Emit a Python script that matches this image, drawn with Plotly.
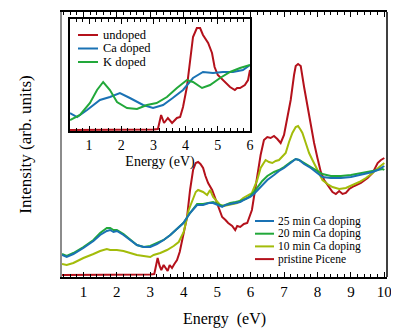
import plotly.graph_objects as go

# ---- main panel data (energy in eV, intensity in arb. units) ----
e_pristine = [0.36, 1.0, 2.0, 3.0, 3.12, 3.18, 3.22, 3.28, 3.33, 3.4, 3.47, 3.52, 3.58, 3.65, 3.72,
              3.8, 3.88, 3.95, 4.02, 4.1, 4.19, 4.28, 4.36, 4.43, 4.5, 4.58, 4.65, 4.73, 4.85, 5.0,
              5.15, 5.25, 5.33, 5.45, 5.54, 5.6, 5.69, 5.8, 5.9, 6.04, 6.13, 6.22, 6.3, 6.4, 6.5,
              6.6, 6.7, 6.8, 6.9, 7.0, 7.1, 7.2, 7.3, 7.35, 7.42, 7.5, 7.6, 7.75, 7.9, 8.0, 8.1,
              8.2, 8.3, 8.45, 8.55, 8.65, 8.75, 8.85, 8.95, 9.1, 9.3, 9.5, 9.65, 9.8, 9.9, 10.0]
i_pristine = [2, 2, 2, 2.5, 3, 15, 19, 11, 7, 12, 9, 6, 12, 9, 13,
              17, 25, 37, 49, 60, 87, 107, 114, 115, 113, 109, 101, 94, 87, 74,
              60, 57, 54, 51, 47, 51, 50, 53, 54, 67, 87, 104, 122, 137, 140,
              139, 141, 138, 134, 142, 159, 177, 202, 211, 213, 211, 190, 160, 134, 119, 105,
              97, 92, 85, 83, 86, 83, 84, 88, 91, 94, 99, 104, 114, 117, 119]

e_25min = [0.36, 0.5, 0.7, 1.0, 1.3, 1.5, 1.7, 1.8, 1.9, 2.0, 2.2, 2.4, 2.6, 2.8, 3.0, 3.2, 3.4,
           3.6, 3.8, 3.99, 4.19, 4.4, 4.58, 4.75, 4.88, 5.0, 5.15, 5.25, 5.39, 5.55, 5.69, 5.85,
           5.99, 6.1, 6.22, 6.35, 6.5, 6.7, 6.85, 7.0, 7.2, 7.35, 7.45, 7.6, 7.8, 8.0, 8.15, 8.4,
           8.7, 9.0, 9.3, 9.5, 9.65, 9.8, 9.95, 10.0]
i_25min = [22, 20, 23, 29, 36, 42, 46, 47, 45, 46, 42, 37, 32, 30, 30, 33, 37,
           42, 48, 54, 64, 72, 72, 74, 74, 72, 70, 72, 73, 74, 75, 78,
           80, 83, 87, 92, 97, 102, 106, 109, 114, 118, 117, 113, 109, 104, 100, 99,
           99, 100, 102, 104, 105, 107, 110, 111]

e_20min = e_25min
i_20min = [23, 21, 24, 30, 37, 44, 49, 49, 47, 47, 43, 37, 32, 30, 31, 34, 37,
           42, 48, 54, 64, 73, 73, 74, 75, 73, 71, 72, 74, 75, 76, 78,
           81, 85, 90, 96, 101, 105, 107, 110, 115, 118, 117, 114, 110, 106, 103, 101,
           101, 102, 104, 105, 106, 107, 108, 107]

e_10min = [0.36, 0.5, 0.7, 1.0, 1.3, 1.5, 1.7, 1.8, 2.0, 2.2, 2.4, 2.6, 2.8, 3.0, 3.1, 3.3, 3.5,
           3.7, 3.85, 4.0, 4.15, 4.28, 4.36, 4.43, 4.5, 4.58, 4.7, 4.79, 4.88, 5.0, 5.09, 5.2,
           5.33, 5.45, 5.6, 5.78, 5.9, 6.04, 6.2, 6.3, 6.45, 6.55, 6.65, 6.75, 6.85, 6.95, 7.05,
           7.15, 7.25, 7.35, 7.42, 7.5, 7.55, 7.65, 7.75, 7.85, 7.95, 8.15, 8.3, 8.45, 8.65,
           8.85, 9.05, 9.25, 9.45, 9.65, 9.85, 10.0]
i_10min = [13, 12, 14, 19, 23, 26, 28, 27, 27, 26, 24, 22, 21, 20, 22, 24, 27,
           31, 35, 45, 67, 77, 85, 87, 86, 85, 82, 87, 80, 75, 72, 71,
           72, 73, 74, 79, 81, 84, 97, 109, 117, 115, 114, 116, 117, 120, 124,
           135, 144, 150, 151, 147, 144, 134, 124, 117, 110, 97, 93, 90, 88,
           89, 92, 95, 99, 104, 110, 114]

main_names = ["pristine Picene", "10 min Ca doping", "20 min Ca doping", "25 min Ca doping"]
main_colors = ["#b4111b", "#a3bc0a", "#22a83a", "#1a72b4"]

# ---- inset data ----
e_undoped = [0.41, 1.0, 2.0, 3.0, 3.14, 3.24, 3.33, 3.45, 3.58, 3.73, 3.83, 3.92, 4.04, 4.14, 4.23,
             4.35, 4.45, 4.54, 4.7, 4.82, 4.9, 5.0, 5.16, 5.38, 5.53, 5.6, 5.69, 5.84, 5.94, 6.0]
i_undoped = [1, 1, 1, 1.5, 2, 16, 8, 13, 8, 13, 14, 24, 44, 74, 94,
             103, 103, 96, 88, 78, 64, 56, 51, 44, 41, 43, 43, 46, 51, 61]

e_ca = [0.41, 0.63, 0.94, 1.34, 1.65, 1.96, 2.27, 2.68, 2.99, 3.3, 3.6, 3.92, 4.23, 4.54, 4.85,
        5.16, 5.47, 5.78, 6.0]
i_ca = [18, 14, 21, 31, 34, 38, 33, 26, 23, 26, 33, 41, 53, 59, 58, 59, 59, 61, 66]

e_k = [0.41, 0.72, 1.03, 1.25, 1.44, 1.65, 1.87, 2.18, 2.49, 2.8, 3.1, 3.42, 3.73, 4.04, 4.23,
       4.51, 4.76, 5.07, 5.38, 5.69, 6.0]
i_k = [11, 16, 28, 41, 49, 41, 29, 23, 22, 26, 28, 34, 43, 51, 49, 43, 46, 53, 59, 63, 66]

inset_names = ["undoped", "Ca doped", "K doped"]
inset_colors = ["#b4111b", "#1a72b4", "#22a83a"]

FONT = "Liberation Serif"
# the page body adds an 8px margin, so the figure is shrunk to fit the 399x330 window
BODY = 8
W, H = 399 - BODY, 330 - BODY
# plot area in window pixels: x 62..387, y 12..277
X0, X1, Y0, Y1 = 62, 387, 12, 277
ML, MR, MT, MB = X0 - BODY, BODY + W - X1, Y0 - BODY, BODY + H - Y1
PW, PH = X1 - X0, Y1 - Y0


def px(x):
    return (x - X0) / PW


def py(y):
    return (Y1 - y) / PH


fig = go.Figure()

main_data = [(e_pristine, i_pristine), (e_10min, i_10min), (e_20min, i_20min), (e_25min, i_25min)]
for (e, i), name, col in zip(main_data, main_names, main_colors):
    fig.add_trace(go.Scatter(x=e, y=i, name=name, mode="lines",
                             line=dict(color=col, width=2), showlegend=False))

inset_data = [(e_undoped, i_undoped), (e_ca, i_ca), (e_k, i_k)]
for (e, i), name, col in zip(inset_data, inset_names, inset_colors):
    fig.add_trace(go.Scatter(x=e, y=i, name=name, mode="lines", xaxis="x2", yaxis="y2",
                             line=dict(color=col, width=2), showlegend=False))

tickstyle = dict(ticks="inside", ticklen=5, tickwidth=1, tickcolor="black",
                 minor=dict(ticks="inside", ticklen=3, dtick=0.2, tickcolor="black"))

fig.update_layout(
    width=W, height=H,
    margin=dict(l=ML, r=MR, t=MT, b=MB),
    paper_bgcolor="white", plot_bgcolor="white",
    font=dict(family=FONT, color="black"),
    showlegend=False,
    xaxis=dict(range=[0.36, 10.08], dtick=1, tick0=0, showgrid=False, zeroline=False,
               showline=True, linecolor="black", linewidth=1.5, mirror="allticks",
               tickfont=dict(size=15), automargin=False,
               title=dict(text="Energy\u00a0 (eV)", font=dict(size=16), standoff=14),
               **tickstyle),
    yaxis=dict(range=[0, 265], showticklabels=False, ticks="", showgrid=False, zeroline=False,
               showline=True, linecolor="#8c8c8c", linewidth=2, automargin=False,
               title=dict(text="Intensity (arb. units)", font=dict(size=17), standoff=24)),
    xaxis2=dict(domain=[px(70), px(250)], anchor="y2", range=[0.41, 6.0], dtick=1, tick0=0,
                showgrid=False, zeroline=False, showline=True, linecolor="black", linewidth=1.5,
                mirror="allticks", tickfont=dict(size=14), automargin=False,
                title=dict(text="Energy (eV)", font=dict(size=14), standoff=5),
                **tickstyle),
    yaxis2=dict(domain=[py(131), py(19)], anchor="x2", range=[0, 112], showticklabels=False,
                ticks="", showgrid=False, zeroline=False, showline=True, linecolor="black",
                linewidth=1.5, mirror=True, automargin=False),
)

# right border of the main frame is black
fig.add_shape(type="line", xref="paper", yref="paper", x0=1, x1=1, y0=0, y1=1,
              line=dict(color="black", width=1.5))

# compact hand-made legends (plotly's own rows are too far apart)
main_rows = [221, 233.7, 246.4, 259.1]
for y, name, col in zip(main_rows, main_names[::-1], main_colors[::-1]):
    fig.add_shape(type="line", xref="paper", yref="paper", x0=px(255), x1=px(274),
                  y0=py(y), y1=py(y), line=dict(color=col, width=2))
    fig.add_annotation(xref="paper", yref="paper", x=px(277), y=py(y), text=name,
                       showarrow=False, xanchor="left", yanchor="middle", borderpad=0,
                       font=dict(size=11.5, family=FONT))

inset_rows = [35, 48.5, 62]
for y, name, col in zip(inset_rows, inset_names, inset_colors):
    fig.add_shape(type="line", xref="paper", yref="paper", x0=px(78), x1=px(98),
                  y0=py(y), y1=py(y), line=dict(color=col, width=2))
    fig.add_annotation(xref="paper", yref="paper", x=px(102), y=py(y), text=name,
                       showarrow=False, xanchor="left", yanchor="middle", borderpad=0,
                       font=dict(size=12.5, family=FONT))

fig.write_html("out.html")
